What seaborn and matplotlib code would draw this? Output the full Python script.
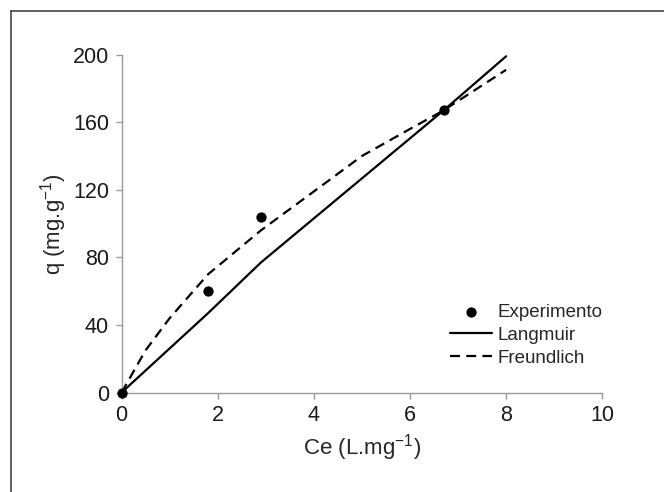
import matplotlib
matplotlib.use("Agg")
import matplotlib.pyplot as plt
import seaborn as sns
import pandas as pd
from matplotlib.lines import Line2D

# experimental points
ce_exp = [0.0, 1.8, 2.9, 6.7]
q_exp = [0, 60, 104, 167]

# fitted curves
ce_lang = [0.0, 1.8, 2.9, 6.7, 8.0]
q_lang = [0, 47, 77, 167, 199]
ce_freu = [0.0, 0.5, 1.0, 1.8, 2.9, 4.0, 5.0, 6.0, 6.7, 8.0]
q_freu = [0, 25, 44, 70, 96, 119, 140, 156, 167, 191]

x_ticks = [0, 2, 4, 6, 8, 10]
y_ticks = [0, 40, 80, 120, 160, 200]

sns.set_theme(style="ticks")
plt.rcParams["font.family"] = ["Liberation Sans", "DejaVu Sans"]
plt.rcParams["mathtext.fontset"] = "custom"
plt.rcParams["mathtext.rm"] = "Liberation Sans"

exp = pd.DataFrame({"ce": ce_exp, "q": q_exp})
lang = pd.DataFrame({"ce": ce_lang, "q": q_lang})
freu = pd.DataFrame({"ce": ce_freu, "q": q_freu})

fig = plt.figure(figsize=(6.64, 4.92), dpi=100)
ax = fig.add_axes([0.183, 0.202, 0.724, 0.687])

sns.lineplot(data=lang, x="ce", y="q", ax=ax, color="black", lw=1.6,
             sort=False, estimator=None, label="Langmuir")
sns.lineplot(data=freu, x="ce", y="q", ax=ax, color="black", lw=1.6,
             sort=False, estimator=None, label="Freundlich", dashes=False)
ax.lines[-1].set_dashes((4.5, 2.8))
sns.scatterplot(data=exp, x="ce", y="q", ax=ax, color="black", s=55,
                edgecolor="black", linewidth=0, zorder=5, clip_on=False,
                label="Experimento")

ax.set_xlim(0, 10)
ax.set_ylim(0, 200)
ax.set_xticks(x_ticks)
ax.set_yticks(y_ticks)
ax.set_xlabel("Ce (L.mg$^{-1}$)", fontsize=16, labelpad=4)
ax.set_ylabel("q (mg.g$^{-1}$)", fontsize=16, labelpad=3)
ax.tick_params(axis="both", labelsize=15.5, colors="#999999", labelcolor="#1a1a1a",
               length=4, width=1, pad=5)
sns.despine(ax=ax)
for s in ("left", "bottom"):
    ax.spines[s].set_color("#999999")
    ax.spines[s].set_linewidth(1)

handles, labels = ax.get_legend_handles_labels()
order = [labels.index(n) for n in ("Experimento", "Langmuir", "Freundlich")]
leg = ax.legend([handles[i] for i in order], [labels[i] for i in order],
                loc="upper left", bbox_to_anchor=(0.684, 0.262), frameon=False,
                fontsize=13.5, handlelength=2.2, handletextpad=0.3,
                labelspacing=0.3, borderpad=0, borderaxespad=0)

# outer frame (only top and left visible in the cropped figure)
fig.add_artist(Line2D([11 / 664, 11 / 664], [0, 1 - 11 / 492], color="#444444", lw=1.2))
fig.add_artist(Line2D([11 / 664, 1], [1 - 11 / 492, 1 - 11 / 492], color="#444444", lw=1.2))

fig.savefig("out.png", dpi=100)
plt.close(fig)
